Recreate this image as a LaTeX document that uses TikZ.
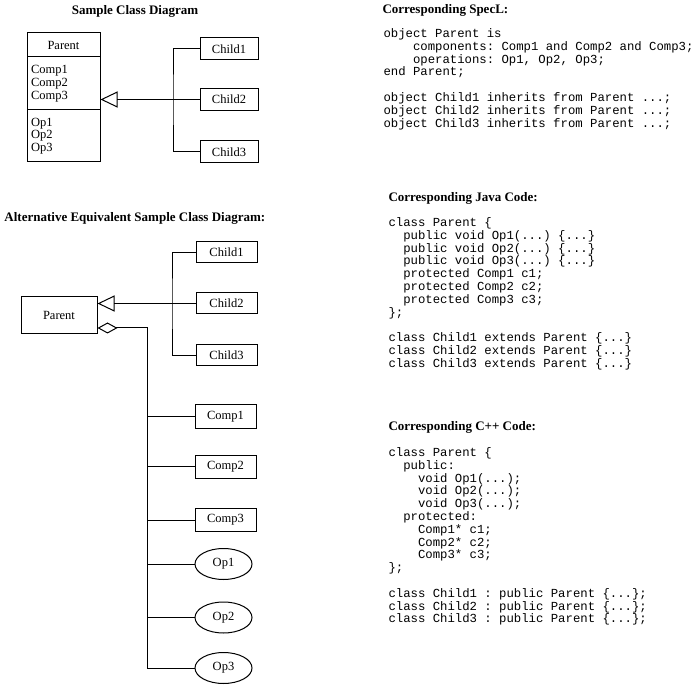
\documentclass[tikz,border=0pt]{standalone}
\usepackage{fontspec}
\setmainfont{Liberation Serif}
\setmonofont{Liberation Mono}
\usetikzlibrary{arrows.meta,shapes.geometric}
\begin{document}
\begin{tikzpicture}[x=1pt,y=-1pt,line width=1pt,
  lbl/.style={font=\fontsize{12.5}{12.7}\selectfont},
  box/.style={draw,rectangle,inner sep=0pt,lbl},
  oval/.style={draw,ellipse,inner sep=0pt,minimum width=57pt,minimum height=31pt,lbl},
  ttl/.style={font=\bfseries\fontsize{13}{15}\selectfont,inner sep=0pt},
  code/.style={font=\ttfamily\fontsize{12.3}{12.8}\selectfont,align=left,inner sep=0pt,anchor=north west},
  inh/.style={-{Triangle[open,length=17pt,width=16pt]}},
  agg/.style={-{Diamond[open,length=20pt,width=11pt]}}]
\useasboundingbox (0,0) rectangle (697,687);

% ---- top diagram
\node[ttl] (t1) at (135,11) {Sample Class Diagram};
\node[box,minimum width=73pt,minimum height=24pt] (pname) at (63.5,45) {Parent};
\node[box,minimum width=73pt,minimum height=53pt,text width=65pt,align=left] (pcomp) at (63.5,83.5) {Comp1\\Comp2\\Comp3};
\node[box,minimum width=73pt,minimum height=52pt,text width=65pt,align=left] (pops) at (63.5,136) {Op1\\Op2\\Op3};
\node[box,minimum width=58pt,minimum height=22pt] (c1) at (229,49) {Child1};
\node[box,minimum width=58pt,minimum height=22pt] (c2) at (229,99.5) {Child2};
\node[box,minimum width=58pt,minimum height=22pt] (c3) at (229,152) {Child3};
\coordinate (j1) at (173,99.5);
\draw (c1.west) -| (j1) |- (c3.west);
\draw[inh] (c2.west) -- (pcomp.east |- c2.west);

% ---- second diagram
\node[ttl,anchor=west] (t2) at (4,218) {Alternative Equivalent Sample Class Diagram:};
\node[box,minimum width=76pt,minimum height=37pt] (p2) at (59,315.5) {Parent};
\node[box,minimum width=61pt,minimum height=21pt] (d1) at (226.5,252.5) {Child1};
\node[box,minimum width=61pt,minimum height=21pt] (d2) at (226.5,303.5) {Child2};
\node[box,minimum width=61pt,minimum height=21pt] (d3) at (226.5,355.5) {Child3};
\coordinate (j2) at (172,303.5);
\draw (d1.west) -| (j2) |- (d3.west);
\draw[inh] (d2.west) -- (p2.east |- d2.west);

\node[box,minimum width=61pt,minimum height=23pt] (m1) at (225.5,416.5) {Comp1};
\node[box,minimum width=61pt,minimum height=23pt] (m2) at (225.5,466.5) {Comp2};
\node[box,minimum width=61pt,minimum height=23pt] (m3) at (225.5,520) {Comp3};
\node[oval] (o1) at (223.5,564) {Op1};
\node[oval] (o2) at (223.5,617.5) {Op2};
\node[oval] (o3) at (223.5,668) {Op3};
\coordinate (k) at (147,328);
\draw[agg] (o3.west) -| (k) -- (p2.east |- k);
\foreach \n in {m1,m2,m3,o1,o2} \draw (\n.west) -- (\n.west -| k);

% ---- SpecL
\node[ttl,anchor=west] (s0) at (382,10) {Corresponding SpecL:};
\node[code] (s1) at (383,28) {object Parent is\\
\phantom{xxxx}components: Comp1 and Comp2 and Comp3;\\
\phantom{xxxx}operations: Op1, Op2, Op3;\\
end Parent;\\[12.8pt]
object Child1 inherits from Parent ...;\\
object Child2 inherits from Parent ...;\\
object Child3 inherits from Parent ...;};

% ---- Java
\node[ttl,anchor=west] (jv0) at (388,198) {Corresponding Java Code:};
\node[code] (jv1) at (388,217) {class Parent \{\\
\phantom{xx}public void Op1(...) \{...\}\\
\phantom{xx}public void Op2(...) \{...\}\\
\phantom{xx}public void Op3(...) \{...\}\\
\phantom{xx}protected Comp1 c1;\\
\phantom{xx}protected Comp2 c2;\\
\phantom{xx}protected Comp3 c3;\\
\};\\[12.8pt]
class Child1 extends Parent \{...\}\\
class Child2 extends Parent \{...\}\\
class Child3 extends Parent \{...\}};

% ---- C++
\node[ttl,anchor=west] (cp0) at (388,427) {Corresponding C++ Code:};
\node[code] (cp1) at (388,447) {class Parent \{\\
\phantom{xx}public:\\
\phantom{xxxx}void Op1(...);\\
\phantom{xxxx}void Op2(...);\\
\phantom{xxxx}void Op3(...);\\
\phantom{xx}protected:\\
\phantom{xxxx}Comp1* c1;\\
\phantom{xxxx}Comp2* c2;\\
\phantom{xxxx}Comp3* c3;\\
\};\\[12.8pt]
class Child1 : public Parent \{...\};\\
class Child2 : public Parent \{...\};\\
class Child3 : public Parent \{...\};};
\end{tikzpicture}
\end{document}
